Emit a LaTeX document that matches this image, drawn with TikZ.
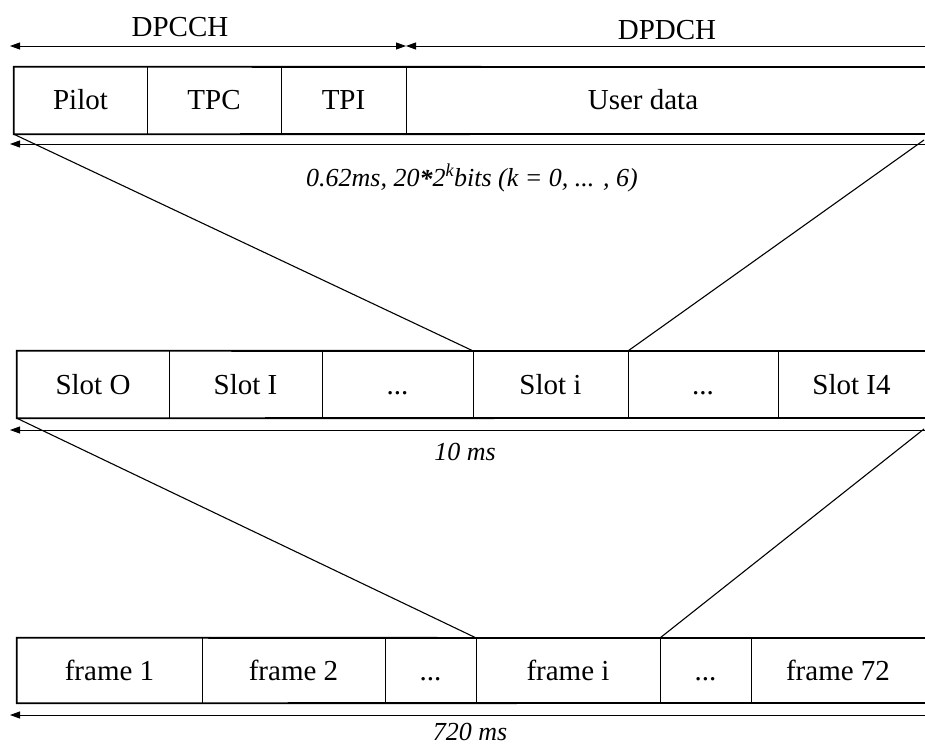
\documentclass[tikz,border=0pt]{standalone}
\usepackage{fontspec}
\setmainfont{Liberation Serif}
\usetikzlibrary{arrows.meta}
\newcommand\mkcell[6]{%
  \node[celltext, minimum width={(#3-#2)*1pt}, minimum height={(#5-#4)*1pt}]
    (#1) at ({(#2+#3)/2},{(#4+#5)/2}) {#6};}
\begin{document}
\begin{tikzpicture}[x=1pt,y=-1pt,
  celltext/.style={inner sep=0pt, text height=19pt, text depth=0pt, font=\fontsize{29}{31}\selectfont},
  toplabel/.style={inner sep=0pt, anchor=base, font=\fontsize{29}{31}\selectfont},
  dimlabel/.style={inner sep=0pt, anchor=base, font=\fontsize{26}{28}\selectfont\itshape},
  outer/.style={line width=1.8pt},
  divider/.style={line width=0.9pt},
  dim/.style={line width=0.9pt, arrows={Triangle[length=10pt,width=7pt]-Triangle[length=10pt,width=7pt]}},
  dimleft/.style={line width=0.9pt, arrows={Triangle[length=10pt,width=7pt]-}},
  link/.style={line width=1.1pt}]
\useasboundingbox (0,0) rectangle (925,746);

% ---- row 1 ----
\mkcell{pilot}{14}{147}{67}{134}{Pilot}
\mkcell{tpc}{147}{281}{67}{134}{TPC}
\mkcell{tpi}{281}{406}{67}{134}{TPI}
\mkcell{user}{406}{880}{67}{134}{User data}
\coordinate (r1t) at (932,67);
\coordinate (r1b) at (932,134);
\draw[outer] (r1t) -- (pilot.north west) -- (pilot.south west) -- (r1b);
\draw[divider] (pilot.north east) -- (pilot.south east);
\draw[divider] (tpc.north east) -- (tpc.south east);
\draw[divider] (tpi.north east) -- (tpi.south east);

% top dimension arrows
\coordinate (a1l) at (10,46);
\coordinate (a1m) at (406,46);
\coordinate (a1r) at (932,46);
\draw[dim] (a1l) -- (a1m);
\draw[dimleft] (a1m) -- (a1r);
\node[toplabel] (dpcch) at (180,37) {DPCCH};
\node[toplabel] (dpdch) at (667,40) {DPDCH};

% bottom dimension row 1
\coordinate (b1l) at (10,144);
\coordinate (b1r) at (932,144);
\draw[dimleft] (b1l) -- (b1r);
\node[dimlabel] (lab1) at (472,186) {0.62ms, 20\raisebox{-1pt}{\textbf{*}}2\textsuperscript{k}bits (k = 0, ... , 6)};

% ---- row 2 ----
\mkcell{s0}{17}{169}{351}{418}{Slot O}
\mkcell{s1}{169}{322}{351}{418}{Slot I}
\mkcell{d1}{322}{473}{351}{418}{...}
\mkcell{si}{473}{628}{351}{418}{Slot i}
\mkcell{d2}{628}{778}{351}{418}{...}
\mkcell{s14}{778}{925}{351}{418}{Slot I4}
\coordinate (r2t) at (932,351);
\coordinate (r2b) at (932,418);
\draw[outer] (r2t) -- (s0.north west) -- (s0.south west) -- (r2b);
\foreach \c in {s0,s1,d1,si,d2}
  \draw[divider] (\c.north east) -- (\c.south east);

\coordinate (b2l) at (10,430);
\coordinate (b2r) at (932,430);
\draw[dimleft] (b2l) -- (b2r);
\node[dimlabel] (lab2) at (465,460) {10 ms};

% ---- row 3 ----
\mkcell{f1}{17}{202}{638}{703}{frame 1}
\mkcell{f2}{202}{385}{638}{703}{frame 2}
\mkcell{d3}{385}{476}{638}{703}{...}
\mkcell{fi}{476}{660}{638}{703}{frame i}
\mkcell{d4}{660}{751}{638}{703}{...}
\mkcell{f72}{751}{925}{638}{703}{frame 72}
\coordinate (r3t) at (932,638);
\coordinate (r3b) at (932,703);
\draw[outer] (r3t) -- (f1.north west) -- (f1.south west) -- (r3b);
\foreach \c in {f1,f2,d3,fi,d4}
  \draw[divider] (\c.north east) -- (\c.south east);

\coordinate (b3l) at (10,715);
\coordinate (b3r) at (932,715);
\draw[dimleft] (b3l) -- (b3r);
\node[dimlabel] (lab3) at (470,740) {720 ms};

% ---- connectors ----
\coordinate (c1r) at (924,140);
\coordinate (c2r) at (924,429);
\draw[link] (pilot.south west) -- (si.north west);
\draw[link] (c1r) -- (si.north east);
\draw[link] (s0.south west) -- (fi.north west);
\draw[link] (c2r) -- (fi.north east);
\end{tikzpicture}
\end{document}
